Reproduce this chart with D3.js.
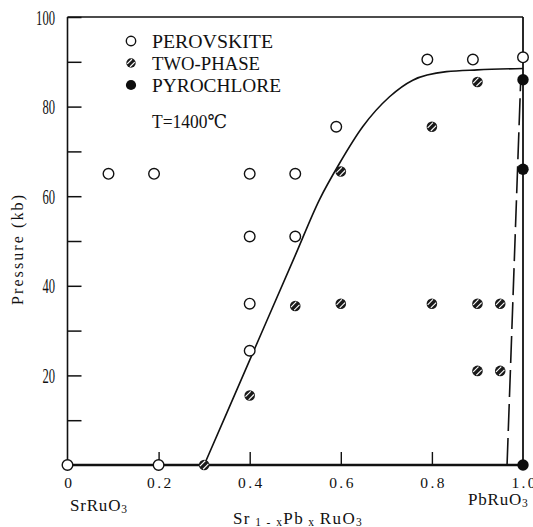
<!DOCTYPE html>
<html>
<head>
<meta charset="utf-8">
<script src="https://cdn.jsdelivr.net/npm/d3@7/dist/d3.min.js"></script>
<style>
  html, body { margin: 0; padding: 0; background: #fff; }
  svg { display: block; }
  text { font-family: "Liberation Serif", "DejaVu Serif", serif; fill: #111; }
</style>
</head>
<body>
<svg id="chart" width="533" height="527"></svg>
<script>
// Phase diagram of Sr(1-x)Pb(x)RuO3 at 1400 °C: composition x vs. pressure (kb)

const xTicks = [0, 0.2, 0.4, 0.6, 0.8, 1.0];
const xTickLabels = ["0", "0.2", "0.4", "0.6", "0.8", "1.0"];
const yTicks = [10, 20, 30, 40, 50, 60, 70, 80, 90, 100];
const yTickLabels = [20, 40, 60, 80, 100];

// [x, pressure] observations
const perovskite = [
  [0, 0], [0.2, 0],
  [0.09, 65], [0.19, 65], [0.4, 65], [0.5, 65],
  [0.4, 51], [0.5, 51],
  [0.4, 36], [0.4, 25.5],
  [0.59, 75.5], [0.79, 90.5], [0.89, 90.5], [1.0, 91]
];
const twoPhase = [
  [0.3, 0], [0.4, 15.5], [0.5, 35.5], [0.6, 36], [0.6, 65.5],
  [0.8, 75.5], [0.9, 85.5], [0.8, 36], [0.9, 36], [0.95, 36],
  [0.9, 21], [0.95, 21]
];
const pyrochlore = [[1.0, 86], [1.0, 66], [1.0, 0]];

// perovskite / two-phase boundary
const boundary = [
  [0.3, 0], [0.4, 23.4], [0.5, 46.8], [0.553, 59.2], [0.597, 67.3],
  [0.648, 75.5], [0.707, 82.2], [0.758, 85.9], [0.832, 87.8],
  [0.9, 88.2], [1.0, 88.5]
];
// two-phase / pyrochlore boundary (tentative)
const dashedBoundary = [[0.965, 0], [0.995, 86]];

const legendItems = ["PEROVSKITE", "TWO-PHASE", "PYROCHLORE"];

const svg = d3.select("#chart");
const x = d3.scaleLinear().domain([0, 1]).range([67.5, 523]);
const y = d3.scaleLinear().domain([0, 100]).range([465, 17]);

// frame
const frame = svg.append("g").attr("fill", "none").attr("stroke", "#111");
frame.append("line").attr("x1", x(0)).attr("x2", x(0)).attr("y1", y(100)).attr("y2", y(0)).attr("stroke-width", 1.6);
frame.append("line").attr("x1", x(0)).attr("x2", x(1)).attr("y1", y(100)).attr("y2", y(100)).attr("stroke-width", 1.5);
frame.append("line").attr("x1", x(1)).attr("x2", x(1)).attr("y1", y(100)).attr("y2", y(0)).attr("stroke-width", 1.8);
frame.append("line").attr("x1", x(0)).attr("x2", x(1)).attr("y1", y(0)).attr("y2", y(0)).attr("stroke-width", 2.4);

// y axis, ticks pointing inward
const yAxis = d3.axisLeft(y)
  .tickValues(yTicks)
  .tickSize(-14)
  .tickPadding(0)
  .tickFormat(d => yTickLabels.includes(d) ? String(d) : "");
const gy = svg.append("g").attr("transform", `translate(${x(0)},0)`).call(yAxis);
gy.select(".domain").remove();
gy.selectAll(".tick line").attr("stroke", "#111").attr("stroke-width", 1.5);
const ySx = 0.6;
gy.selectAll(".tick text")
  .attr("font-size", 21)
  .attr("font-family", "Liberation Serif, serif")
  .attr("fill", "#111")
  .attr("transform", `scale(${ySx},1)`)
  .attr("x", -12.5 / ySx)
  .attr("dy", "0.34em");

// x axis, ticks pointing inward
const xAxis = d3.axisBottom(x)
  .tickValues(xTicks)
  .tickSize(-13)
  .tickPadding(12)
  .tickFormat((d, i) => xTickLabels[i]);
const gx = svg.append("g").attr("transform", `translate(0,${y(0)})`).call(xAxis);
gx.select(".domain").remove();
gx.selectAll(".tick line").attr("stroke", "#111").attr("stroke-width", 1.4)
  .attr("display", d => (d === 0 || d === 1) ? "none" : null);
gx.selectAll(".tick text")
  .attr("font-size", 15.5)
  .attr("font-family", "Liberation Serif, serif")
  .attr("fill", "#111")
  .attr("letter-spacing", "2.4px")
  .attr("dx", "1.2px");

// boundaries
const line = d3.line().x(d => x(d[0])).y(d => y(d[1]));
svg.append("path")
  .datum(boundary)
  .attr("d", line.curve(d3.curveMonotoneX))
  .attr("fill", "none").attr("stroke", "#111").attr("stroke-width", 1.6);
svg.append("path")
  .datum(dashedBoundary)
  .attr("d", d3.line().x(d => x(d[0])).y(d => y(d[1])))
  .attr("fill", "none").attr("stroke", "#111").attr("stroke-width", 1.6)
  .attr("stroke-dasharray", "27,7");

// marker drawers
function drawOpen(g, r) {
  g.append("circle").attr("r", r).attr("fill", "#fff").attr("stroke", "#111").attr("stroke-width", 1.4);
}
function drawHatched(g, r) {
  g.append("circle").attr("r", r).attr("fill", "#1a1a1a");
  const s = r * 0.3, h = r * 0.5;
  [-1, 1].forEach(k => {
    const cx = k * s, cy = k * s;
    g.append("line")
      .attr("x1", cx - h).attr("y1", cy + h)
      .attr("x2", cx + h).attr("y2", cy - h)
      .attr("stroke", "#fff").attr("stroke-width", 1.1);
  });
}
function drawFilled(g, r) {
  g.append("circle").attr("r", r + 0.4).attr("fill", "#0d0d0d");
}

function plot(data, drawer, r) {
  svg.append("g").selectAll("g")
    .data(data)
    .join("g")
    .attr("transform", d => `translate(${x(d[0])},${y(d[1])})`)
    .each(function () { drawer(d3.select(this), r); });
}
plot(twoPhase, drawHatched, 5.3);
plot(pyrochlore, drawFilled, 5.3);
plot(perovskite, drawOpen, 5.3);

// legend
const drawers = [drawOpen, drawHatched, drawFilled];
const legendWidths = [121, 108, 129];
const legend = svg.append("g");
legendItems.forEach((name, i) => {
  const cy = 41 + i * 22;
  drawers[i](legend.append("g").attr("transform", `translate(131,${cy})`), 4.7);
  legend.append("text")
    .attr("x", 152).attr("y", cy + 6.8)
    .attr("font-size", 19)
    .attr("textLength", legendWidths[i])
    .attr("lengthAdjust", "spacingAndGlyphs")
    .text(name);
});
legend.append("text")
  .attr("x", 152).attr("y", 128)
  .attr("font-size", 19)
  .attr("textLength", 75)
  .attr("lengthAdjust", "spacingAndGlyphs")
  .text("T=1400\u2103");

// axis titles
svg.append("text")
  .attr("transform", "translate(23,250) rotate(-90)")
  .attr("text-anchor", "middle")
  .attr("font-size", 16)
  .attr("textLength", 110)
  .attr("lengthAdjust", "spacing")
  .text("Pressure (kb)");

const xt = svg.append("text")
  .attr("x", 233).attr("y", 524)
  .attr("font-size", 17)
  .attr("letter-spacing", "1.4px");
xt.append("tspan").text("Sr");
xt.append("tspan").attr("font-size", 11.5).attr("dy", 2).text(" 1 - x");
xt.append("tspan").attr("dy", -2).text("Pb");
xt.append("tspan").attr("font-size", 11.5).attr("dy", 2).text(" x ");
xt.append("tspan").attr("dy", -2).text("RuO");
xt.append("tspan").attr("font-size", 11.5).attr("dy", 2).text("3");

function formula(xPos, yPos, base) {
  const t = svg.append("text").attr("x", xPos).attr("y", yPos).attr("font-size", 17).attr("letter-spacing", "0.8px");
  t.append("tspan").text(base);
  t.append("tspan").attr("font-size", 11.5).attr("dy", 2).text("3");
}
formula(70, 511, "SrRuO");
formula(468, 505, "PbRuO");
</script>
</body>
</html>
